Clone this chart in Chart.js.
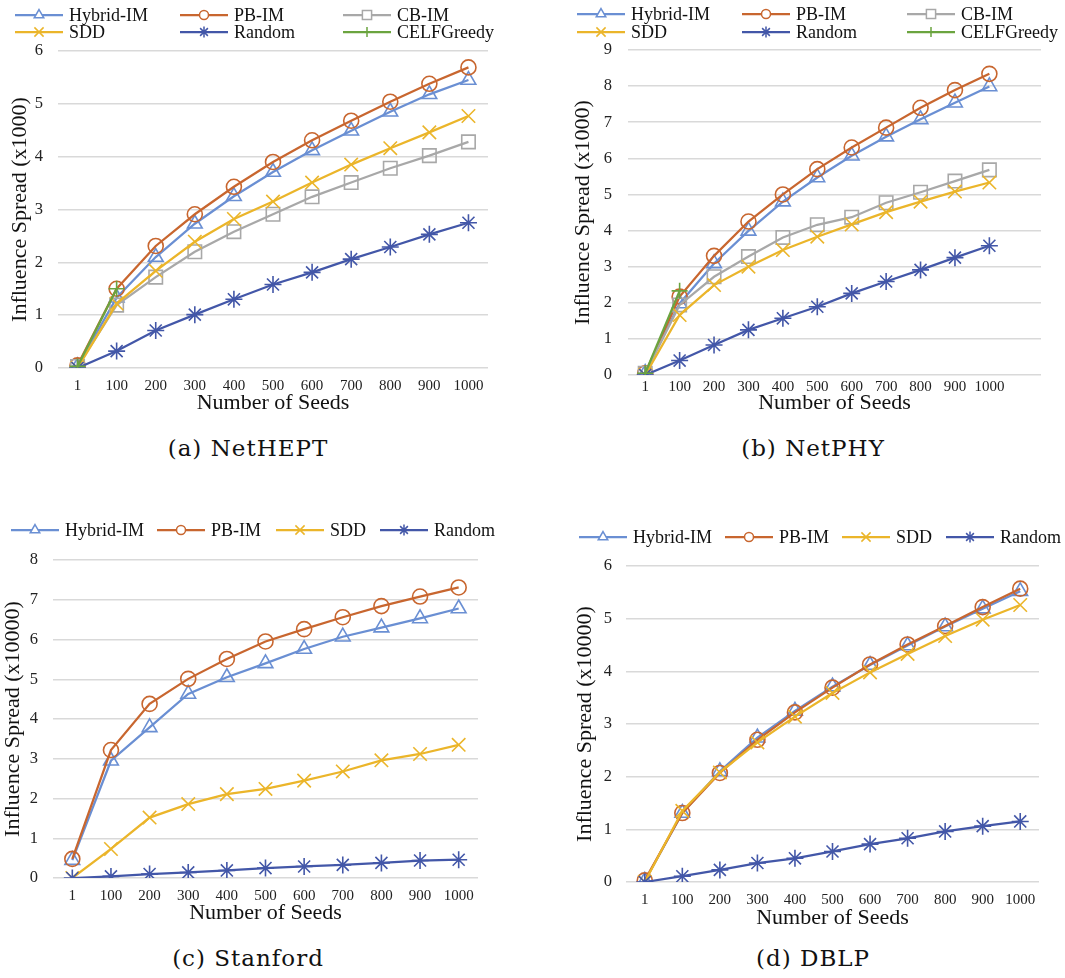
<!DOCTYPE html>
<html>
<head>
<meta charset="utf-8">
<script src="https://cdn.jsdelivr.net/npm/chart.js@4"></script>
<style>
  body { margin: 0; background: #fff; width: 1065px; height: 978px; position: relative; overflow: hidden; }
  .box { position: absolute; }
  .cap { position: absolute; font-family: "DejaVu Serif", serif; font-size: 23px; letter-spacing: 1px; color: #111; transform: translateX(-50%); white-space: nowrap; }
</style>
</head>
<body>
<div class="box" style="left:0;top:0"><canvas id="hept" width="520" height="420"></canvas></div>
<div class="box" style="left:560px;top:0"><canvas id="phy" width="505" height="420"></canvas></div>
<div class="box" style="left:0;top:500px"><canvas id="stan" width="520" height="440"></canvas></div>
<div class="box" style="left:560px;top:500px"><canvas id="dblp" width="505" height="440"></canvas></div>
<div class="cap" style="left:248px;top:435px">(a) NetHEPT</div>
<div class="cap" style="left:813px;top:435px">(b) NetPHY</div>
<div class="cap" style="left:248px;top:945px">(c) Stanford</div>
<div class="cap" style="left:813px;top:945px">(d) DBLP</div>
<script>
const seeds = ['1', '100', '200', '300', '400', '500', '600', '700', '800', '900', '1000'];

// NetHEPT (x1000)
const heptHybrid = [0.03, 1.33, 2.10, 2.73, 3.25, 3.71, 4.12, 4.49, 4.85, 5.18, 5.45];
const heptPB     = [0.05, 1.50, 2.31, 2.91, 3.43, 3.90, 4.31, 4.68, 5.04, 5.38, 5.69];
const heptCB     = [0.03, 1.19, 1.72, 2.20, 2.58, 2.91, 3.24, 3.51, 3.78, 4.02, 4.28];
const heptSDD    = [0.00, 1.22, 1.84, 2.39, 2.82, 3.15, 3.51, 3.85, 4.16, 4.46, 4.77];
const heptRandom = [0.00, 0.32, 0.71, 1.01, 1.30, 1.58, 1.81, 2.06, 2.29, 2.53, 2.75];
const heptCELF   = [0.03, 1.50];

// NetPHY (x1000)
const phyHybrid = [0.05, 1.98, 3.09, 3.99, 4.80, 5.47, 6.07, 6.60, 7.08, 7.54, 7.99];
const phyPB     = [0.05, 2.17, 3.30, 4.25, 5.00, 5.70, 6.30, 6.85, 7.40, 7.89, 8.34];
const phyCB     = [0.05, 1.94, 2.72, 3.28, 3.81, 4.16, 4.37, 4.77, 5.06, 5.37, 5.68];
const phySDD    = [0.00, 1.66, 2.49, 3.00, 3.46, 3.83, 4.17, 4.51, 4.80, 5.08, 5.33];
const phyRandom = [0.00, 0.40, 0.83, 1.25, 1.57, 1.89, 2.26, 2.59, 2.91, 3.25, 3.58];
const phyCELF   = [0.05, 2.33];

// Stanford (x10000)
const stanHybrid = [0.45, 2.95, 3.79, 4.63, 5.05, 5.40, 5.76, 6.07, 6.30, 6.53, 6.78];
const stanPB     = [0.48, 3.22, 4.38, 5.01, 5.51, 5.95, 6.26, 6.56, 6.84, 7.08, 7.31];
const stanSDD    = [0.00, 0.73, 1.52, 1.86, 2.11, 2.24, 2.45, 2.68, 2.96, 3.12, 3.35];
const stanRandom = [0.00, 0.04, 0.10, 0.14, 0.19, 0.25, 0.29, 0.33, 0.38, 0.44, 0.46];

// DBLP (x10000)
const dblpHybrid = [0.02, 1.31, 2.10, 2.74, 3.25, 3.71, 4.12, 4.49, 4.85, 5.19, 5.52];
const dblpPB     = [0.03, 1.31, 2.07, 2.70, 3.22, 3.69, 4.13, 4.51, 4.86, 5.22, 5.57];
const dblpSDD    = [0.00, 1.35, 2.08, 2.65, 3.14, 3.59, 3.98, 4.33, 4.67, 4.98, 5.26];
const dblpRandom = [0.00, 0.11, 0.23, 0.36, 0.45, 0.58, 0.72, 0.83, 0.96, 1.06, 1.15];

const serif = '"Liberation Serif", "Times New Roman", serif';

const styles = {
    'Hybrid-IM':  { color: '#6a8fd3', point: 'triangle', r: 8.5 },
    'PB-IM':      { color: '#c8662f', point: 'circle',   r: 7.5 },
    'CB-IM':      { color: '#a8a8a8', point: 'rect',     r: 9.5 },
    'SDD':        { color: '#ebb52a', point: 'crossRot', r: 9.5 },
    'Random':     { color: '#4357a8', point: 'star',     r: 8.5 },
    'CELFGreedy': { color: '#6ba43f', point: 'cross',    r: 8 }
};

function series(label, data) {
    const s = styles[label];
    return {
        label: label,
        data: data,
        borderColor: s.color,
        backgroundColor: 'rgba(0,0,0,0)',
        borderWidth: 2.25,
        pointStyle: s.point,
        pointRadius: s.r,
        pointBorderWidth: 1.6,
        pointBackgroundColor: 'rgba(0,0,0,0)',
        pointBorderColor: s.color,
        tension: 0,
        spanGaps: false
    };
}

// legend drawn as line + marker + text, like the spreadsheet legend
const lineLegend = {
    id: 'lineLegend',
    afterDraw(chart, args, opts) {
        const ctx = chart.ctx;
        ctx.save();
        chart.data.datasets.forEach((ds, i) => {
            const pos = opts.items[i];
            const x = pos[0], y = pos[1];
            ctx.strokeStyle = ds.borderColor;
            ctx.lineWidth = 2.25;
            ctx.beginPath();
            ctx.moveTo(x, y);
            ctx.lineTo(x + 48, y);
            ctx.stroke();
            ctx.fillStyle = '#fff';
            ctx.lineWidth = 1.5;
            Chart.helpers.drawPoint(ctx, {
                pointStyle: ds.pointStyle,
                radius: Math.max(4.5, ds.pointRadius - 3),
                borderWidth: 1.5,
                rotation: 0
            }, x + 24, y);
            ctx.fillStyle = '#111';
            ctx.font = '18px ' + serif;
            ctx.textBaseline = 'middle';
            ctx.textAlign = 'left';
            ctx.fillText(ds.label, x + 54, y + 1);
        });
        ctx.restore();
    }
};

function makeChart(id, labels, datasets, cfg) {
    const n = datasets.length;
    datasets.forEach((d, i) => { d.order = n - i; });
    return new Chart(document.getElementById(id), {
        type: 'line',
        data: { labels: labels, datasets: datasets },
        plugins: [lineLegend],
        options: {
            responsive: false,
            animation: false,
            layout: { padding: cfg.pad },
            plugins: {
                legend: { display: false },
                tooltip: { enabled: false },
                lineLegend: { items: cfg.legend }
            },
            scales: {
                x: {
                    type: 'category',
                    offset: true,
                    grid: { display: false, drawTicks: false },
                    border: { display: false },
                    ticks: { color: '#222', font: { family: serif, size: 15 }, padding: cfg.xTickPad, maxRotation: 0, autoSkip: false },
                    title: { display: true, text: 'Number of Seeds', color: '#111', font: { family: serif, size: 22 }, padding: { top: 0, bottom: cfg.xTitlePad } },
                    afterFit: (s) => { s.height = cfg.xH; }
                },
                y: {
                    min: 0,
                    max: cfg.yMax,
                    ticks: { stepSize: 1, color: '#222', font: { family: serif, size: 16.5 }, padding: cfg.yTickPad },
                    grid: { color: '#d9d9d9', lineWidth: 1.5, drawTicks: false },
                    border: { display: false },
                    title: { display: true, text: cfg.yTitle, color: '#111', font: { family: serif, size: 22 }, padding: { top: cfg.yTitlePad, bottom: 0 } },
                    afterFit: (s) => { s.width = cfg.yW; }
                }
            }
        }
    });
}

makeChart('hept', seeds, [
    series('Hybrid-IM', heptHybrid), series('PB-IM', heptPB), series('CB-IM', heptCB),
    series('SDD', heptSDD), series('Random', heptRandom), series('CELFGreedy', heptCELF)
], {
    pad: { top: 51, right: 32, left: 0, bottom: 0 }, xH: 52, yW: 58,
    xTickPad: 9, xTitlePad: 4, yTickPad: 15, yTitlePad: 7, yMax: 6,
    yTitle: 'Influence Spread (x1000)',
    legend: [[15, 15], [180, 15], [343, 15], [15, 32], [180, 32], [343, 32]]
});

makeChart('phy', [...seeds, ''], [
    series('Hybrid-IM', phyHybrid), series('PB-IM', phyPB), series('CB-IM', phyCB),
    series('SDD', phySDD), series('Random', phyRandom), series('CELFGreedy', phyCELF)
], {
    pad: { top: 50, right: 24, left: 0, bottom: 0 }, xH: 45, yW: 68,
    xTickPad: 3, xTitlePad: 4, yTickPad: 16, yTitlePad: 10, yMax: 9,
    yTitle: 'Influence Spread (x1000)',
    legend: [[17, 14], [182, 14], [347, 14], [17, 32], [182, 32], [347, 32]]
});

makeChart('stan', seeds, [
    series('Hybrid-IM', stanHybrid), series('PB-IM', stanPB),
    series('SDD', stanSDD), series('Random', stanRandom)
], {
    pad: { top: 60, right: 42, left: 0, bottom: 10 }, xH: 52, yW: 53,
    xTickPad: 9, xTitlePad: 4, yTickPad: 15, yTitlePad: 0, yMax: 8,
    yTitle: 'Influence Spread (x10000)',
    legend: [[11, 30], [157, 30], [276, 30], [380, 30]]
});

makeChart('dblp', seeds, [
    series('Hybrid-IM', dblpHybrid), series('PB-IM', dblpPB),
    series('SDD', dblpSDD), series('Random', dblpRandom)
], {
    pad: { top: 66, right: 26, left: 0, bottom: 6 }, xH: 52, yW: 66,
    xTickPad: 9, xTitlePad: 3, yTickPad: 14, yTitlePad: 12, yMax: 6,
    yTitle: 'Influence Spread (x10000)',
    legend: [[19, 37], [165, 37], [282, 37], [386, 37]]
});
</script>
</body>
</html>
